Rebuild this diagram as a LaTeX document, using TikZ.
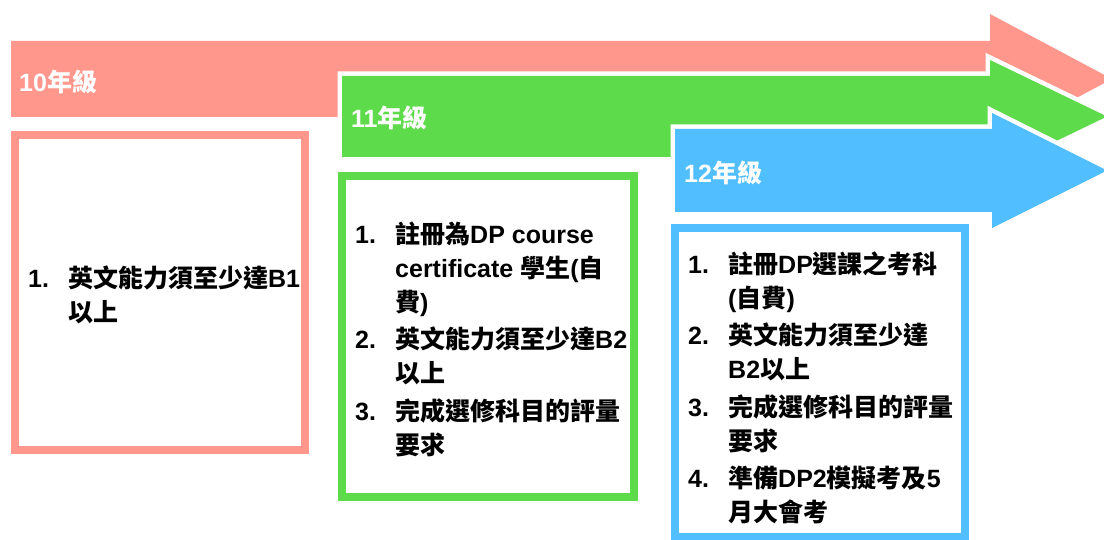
\documentclass[tikz,border=0pt]{standalone}
\usepackage{fontspec}
\setmainfont{Liberation Sans}
\newfontfamily\cjk{Noto Sans CJK TC}
\definecolor{salmonc}{HTML}{FF978D}
\definecolor{greenc}{HTML}{5DDB4B}
\definecolor{bluec}{HTML}{51BFFF}
\newcommand{\num}[1]{\makebox[40pt][l]{#1}}
\newcommand{\ind}{\hspace*{40pt}}
\begin{document}
\begin{tikzpicture}[x=1pt,y=-1pt,
  arrowshape/.style={fill=#1, preaction={draw=white, line width=9pt, line join=miter}},
  boxshape/.style={draw=#1, line width=8pt, fill=white},
  titletext/.style={anchor=base west, inner sep=0pt, text=white, font=\fontsize{25}{30}\selectfont\bfseries},
  listtext/.style={anchor=base west, inner sep=0pt, align=left, font=\fontsize{25}{34}\selectfont\bfseries}]
\useasboundingbox (0,0) rectangle (1104,540);

% arrows
\path[arrowshape=salmonc] (11,41) -- (990,41) -- (990,14) -- (1112,79) -- (990,144) -- (990,117) -- (11,117) -- cycle;
\path[arrowshape=greenc] (342,76) -- (990,76) -- (990,60) -- (1107,116.5) -- (990,173) -- (990,157) -- (342,157) -- cycle;
\path[arrowshape=bluec] (675,129) -- (992,129) -- (992,113) -- (1107,170.5) -- (992,228) -- (992,212) -- (675,212) -- cycle;

% boxes
\draw[boxshape=salmonc] (15,135) rectangle (305,450);
\draw[boxshape=greenc] (342,176) rectangle (634,497);
\draw[boxshape=bluec] (675,228) rectangle (965,537);

% titles
\node[titletext] (t10) at (19,91.5) {10{\cjk 年級}};
\node[titletext] (t11) at (351,127.5) {11{\cjk 年級}};
\node[titletext] (t12) at (684,182.5) {12{\cjk 年級}};

% lists (anchored at the baseline of their last line)
\node[listtext] (l10) at (28,321.5) {\num{1.}{\cjk 英文能力須至少達}B1\\
\ind{\cjk 以上}};

\node[listtext] (l11) at (355,454) {\num{1.}{\cjk 註冊為}DP course\\
\ind certificate {\cjk 學生}({\cjk 自}\\
\ind{\cjk 費})\\[3.5pt]
\num{2.}{\cjk 英文能力須至少達}B2\\
\ind{\cjk 以上}\\[3.5pt]
\num{3.}{\cjk 完成選修科目的評量}\\
\ind{\cjk 要求}};

\node[listtext] (l12) at (688,521.5) {\num{1.}{\cjk 註冊}DP{\cjk 選課之考科}\\
\ind({\cjk 自費})\\[3.5pt]
\num{2.}{\cjk 英文能力須至少達}\\
\ind B2{\cjk 以上}\\[3.5pt]
\num{3.}{\cjk 完成選修科目的評量}\\
\ind{\cjk 要求}\\[3.5pt]
\num{4.}{\cjk 準備}DP2{\cjk 模擬考及}5\\
\ind{\cjk 月大會考}};
\end{tikzpicture}
\end{document}
